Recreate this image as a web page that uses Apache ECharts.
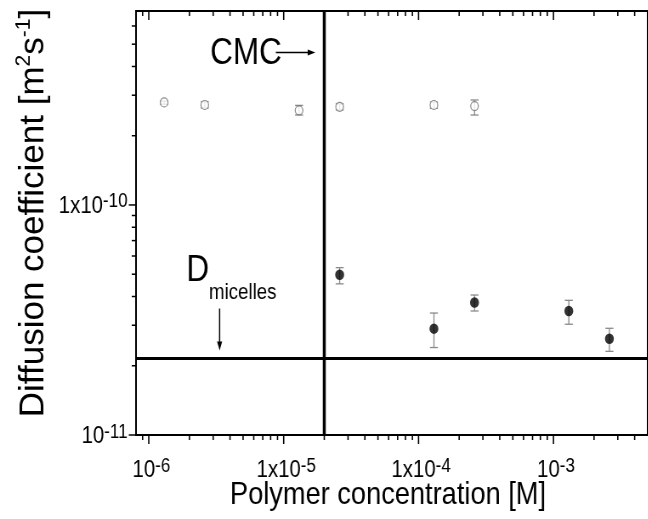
<!DOCTYPE html>
<html>
<head>
<meta charset="utf-8">
<script src="https://cdn.jsdelivr.net/npm/echarts@6/dist/echarts.min.js"></script>
<style>
  html, body { margin: 0; padding: 0; background: #fff; overflow: hidden; }
  #wrap { width: 648px; height: 519px; overflow: hidden; position: relative; }
  #chart { height: 519px; transform-origin: 0 0; }
</style>
</head>
<body>
<div id="wrap"><div id="chart"></div></div>
<script>
// Polymer concentration [M] and diffusion coefficients [m^2 s^-1]
const freeConc = [1.3e-6, 2.6e-6, 1.3e-5, 2.6e-5, 1.3e-4, 2.6e-4];
const freeD    = [2.79e-10, 2.72e-10, 2.58e-10, 2.67e-10, 2.72e-10, 2.69e-10];
const freeLow  = [2.74e-10, 2.64e-10, 2.46e-10, 2.59e-10, 2.63e-10, 2.46e-10];
const freeHigh = [2.83e-10, 2.81e-10, 2.71e-10, 2.75e-10, 2.80e-10, 2.86e-10];

const micConc = [2.6e-5, 1.3e-4, 2.6e-4, 1.3e-3, 2.6e-3];
const micD    = [4.97e-11, 2.90e-11, 3.77e-11, 3.46e-11, 2.62e-11];
const micLow  = [4.54e-11, 2.40e-11, 3.46e-11, 3.03e-11, 2.31e-11];
const micHigh = [5.34e-11, 3.39e-11, 4.06e-11, 3.85e-11, 2.91e-11];

// reference levels
const cmc = 2e-5;           // critical micelle concentration
const dMicelles = 2.15e-11; // diffusion coefficient of micelles

// axis ranges
const xMin = 8.04e-7, xMax = 5e-3;
const yMin = 1e-11, yMax = 6.97e-10;

// ticks and tick labels
const xMajor = [1e-6, 1e-5, 1e-4, 1e-3];
const xLabelBase = ['10', '1x10', '1x10', '10'];
const xLabelExp  = ['-6', '-5', '-4', '-3'];
const xMinor = [9e-7,
  2e-6, 3e-6, 4e-6, 5e-6, 6e-6, 7e-6, 8e-6, 9e-6,
  2e-5, 3e-5, 4e-5, 5e-5, 6e-5, 7e-5, 8e-5, 9e-5,
  2e-4, 3e-4, 4e-4, 5e-4, 6e-4, 7e-4, 8e-4, 9e-4,
  2e-3, 3e-3, 4e-3];
const yMajor = [1e-11, 1e-10];
const yLabelBase = ['10', '1x10'];
const yLabelExp  = ['-11', '-10'];
const yMinor = [2e-11, 3e-11, 4e-11, 5e-11, 6e-11, 7e-11, 8e-11, 9e-11,
  2e-10, 3e-10, 4e-10, 5e-10, 6e-10];

// annotation anchors (data space)
const cmcNoteY = 4.6e-10;
const micNoteX = 3.35e-6;

// the figure is drawn wide and compressed horizontally
const SX = 0.85;
const W = 648 / SX;
const el = document.getElementById('chart');
el.style.width = W + 'px';
el.style.transform = 'scaleX(' + SX + ')';

const FONT = '"Liberation Sans", Arial, Helvetica, sans-serif';

// power-of-ten label: base digits with a raised exponent
const richTick = {
  b: { fontSize: 24, lineHeight: 28, fontFamily: FONT, fill: '#000' },
  s: { fontSize: 20, lineHeight: 8, fontFamily: FONT, fill: '#000', verticalAlign: 'top' }
};
function tickLabel(x, y, base, exp, align) {
  return { type: 'text', x: x, y: y, style: {
    text: '{b|' + base + '}{s|' + exp + '}', rich: richTick,
    fontFamily: FONT, fontSize: 24, fill: '#000', align: align, verticalAlign: 'middle' } };
}

function xTickItem(len, labelled) {
  return function (params, api) {
    const cs = params.coordSys;
    const x = api.coord([api.value(0), yMin])[0];
    const b = cs.y + cs.height, t = cs.y;
    const st = { stroke: '#000', lineWidth: 1.6 };
    const kids = [
      { type: 'line', shape: { x1: x, y1: b, x2: x, y2: b + len }, style: st },
      { type: 'line', shape: { x1: x, y1: t, x2: x, y2: t + len }, style: st }
    ];
    if (labelled) {
      const i = params.dataIndex;
      kids.push(tickLabel(x + 3, b + 35, xLabelBase[i], xLabelExp[i], 'center'));
    }
    return { type: 'group', children: kids };
  };
}
function yTickItem(len, labelled) {
  return function (params, api) {
    const cs = params.coordSys;
    const y = api.coord([xMin, api.value(1)])[1];
    const kids = [{ type: 'line', shape: { x1: cs.x - len, y1: y, x2: cs.x, y2: y },
      style: { stroke: '#000', lineWidth: 1.5 } }];
    if (labelled) {
      const i = params.dataIndex;
      kids.push(tickLabel(cs.x - 10, y + 1, yLabelBase[i], yLabelExp[i], 'right'));
    }
    return { type: 'group', children: kids };
  };
}
function errItem(color) {
  return function (params, api) {
    const x = api.value(0);
    const p1 = api.coord([x, api.value(2)]);
    const p2 = api.coord([x, api.value(1)]);
    const c = 4.7;
    const st = { stroke: color, lineWidth: 1.3 };
    return { type: 'group', children: [
      { type: 'line', shape: { x1: p1[0], y1: p1[1], x2: p2[0], y2: p2[1] }, style: st },
      { type: 'line', shape: { x1: p1[0] - c, y1: p1[1], x2: p1[0] + c, y2: p1[1] }, style: st },
      { type: 'line', shape: { x1: p2[0] - c, y1: p2[1], x2: p2[0] + c, y2: p2[1] }, style: st }
    ]};
  };
}
// full-height / full-width reference lines
function vLineItem(params, api) {
  const cs = params.coordSys;
  const x = api.coord([api.value(0), yMin])[0];
  return { type: 'line', shape: { x1: x, y1: cs.y, x2: x, y2: cs.y + cs.height },
    style: { stroke: '#000', lineWidth: 3.5 } };
}
function hLineItem(params, api) {
  const cs = params.coordSys;
  const y = api.coord([xMin, api.value(1)])[1];
  return { type: 'line', shape: { x1: cs.x, y1: y, x2: cs.x + cs.width, y2: y },
    style: { stroke: '#000', lineWidth: 3 } };
}

const chart = echarts.init(el, null, { renderer: 'canvas' });

const option = {
  backgroundColor: '#fff',
  animation: false,
  grid: { left: 136 / SX, right: W - 657 / SX, top: 11, bottom: 84,
    show: true, borderColor: '#000', borderWidth: 2 },
  xAxis: {
    type: 'log', logBase: 10, min: xMin, max: xMax,
    axisLine: { show: false }, axisTick: { show: false }, splitLine: { show: false },
    axisLabel: { show: false }
  },
  yAxis: {
    type: 'log', logBase: 10, min: yMin, max: yMax,
    axisLine: { show: false }, axisTick: { show: false }, splitLine: { show: false },
    axisLabel: { show: false }
  },
  series: [
    { type: 'custom', silent: true, clip: false, renderItem: xTickItem(9, true), data: xMajor.map(v => [v, yMin]), z: 3 },
    { type: 'custom', silent: true, clip: false, renderItem: xTickItem(5, false), data: xMinor.map(v => [v, yMin]), z: 3 },
    { type: 'custom', silent: true, clip: false, renderItem: yTickItem(8.5, true), data: yMajor.map(v => [xMin, v]), z: 3 },
    { type: 'custom', silent: true, clip: false, renderItem: yTickItem(5, false), data: yMinor.map(v => [xMin, v]), z: 3 },
    { type: 'custom', silent: true, clip: false, renderItem: vLineItem, data: [[cmc, yMin]], z: 3 },
    { type: 'custom', silent: true, clip: false, renderItem: hLineItem, data: [[xMin, dMicelles]], z: 3 },
    { type: 'custom', silent: true, renderItem: errItem('#8a8a8a'),
      data: freeConc.map((c, i) => [c, freeLow[i], freeHigh[i]]), z: 2 },
    { type: 'custom', silent: true, renderItem: errItem('#8a8a8a'),
      data: micConc.map((c, i) => [c, micLow[i], micHigh[i]]), z: 2 },
    { type: 'scatter', silent: true, symbol: 'circle', symbolSize: 9,
      itemStyle: { color: '#fff', borderColor: '#6e6e6e', borderWidth: 1.2 },
      data: freeConc.map((c, i) => [c, freeD[i]]), z: 4 },
    { type: 'scatter', silent: true, symbol: 'circle', symbolSize: 10.5,
      itemStyle: { color: '#000' },
      data: micConc.map((c, i) => [c, micD[i]]), z: 4 }
  ]
};
chart.setOption(option);

// annotations and axis titles, placed from data anchors
const pC = chart.convertToPixel({ gridIndex: 0 }, [cmc, cmcNoteY]);
const pD = chart.convertToPixel({ gridIndex: 0 }, [micNoteX, dMicelles]);
const ink = { fill: '#000', fontFamily: FONT };

function arrowH(x1, x2, y) {
  return [
    { type: 'line', shape: { x1: x1, y1: y, x2: x2 - 6, y2: y }, style: { stroke: '#000', lineWidth: 1.3 } },
    { type: 'polygon', shape: { points: [[x2, y], [x2 - 9, y - 3], [x2 - 9, y + 3]] }, style: { fill: '#000' } }
  ];
}
function arrowV(x, y1, y2) {
  return [
    { type: 'line', shape: { x1: x, y1: y1, x2: x, y2: y2 - 6 }, style: { stroke: '#000', lineWidth: 1.5 } },
    { type: 'polygon', shape: { points: [[x, y2], [x - 3, y2 - 9], [x + 3, y2 - 9]] }, style: { fill: '#000' } }
  ];
}

chart.setOption({
  graphic: [
    { type: 'text', x: pC[0] - 50, y: pC[1] + 1.5,
      style: Object.assign({ text: 'CMC', fontSize: 37, align: 'right', verticalAlign: 'middle' }, ink) },
    ...arrowH(pC[0] - 57, pC[0] - 10.5, pC[1]),
    { type: 'text', x: pD[0] - 39, y: pD[1] - 106,
      style: Object.assign({ text: 'D', fontSize: 37, align: 'left', verticalAlign: 'top' }, ink) },
    { type: 'text', x: pD[0] - 12.5, y: pD[1] - 77,
      style: Object.assign({ text: 'micelles', fontSize: 22, align: 'left', verticalAlign: 'top' }, ink) },
    ...arrowV(pD[0], pD[1] - 50, pD[1] - 8),
    { type: 'text', x: 39.5, y: 213, rotation: Math.PI / 2, scaleY: 1.18,
      style: Object.assign({
        text: '{t|Diffusion coefficient [m}{u|2}{t|s}{u|-1}{t|]}',
        align: 'center', verticalAlign: 'middle',
        rich: {
          t: { fontSize: 35, lineHeight: 40, fontFamily: FONT, fill: '#000' },
          u: { fontSize: 21, lineHeight: 21, fontFamily: FONT, fill: '#000', verticalAlign: 'top' }
        }
      }, ink) },
    { type: 'text', x: 388 / SX, y: 495,
      style: Object.assign({ text: 'Polymer concentration [M]', fontSize: 32, align: 'center', verticalAlign: 'middle' }, ink) }
  ]
});
</script>
</body>
</html>
